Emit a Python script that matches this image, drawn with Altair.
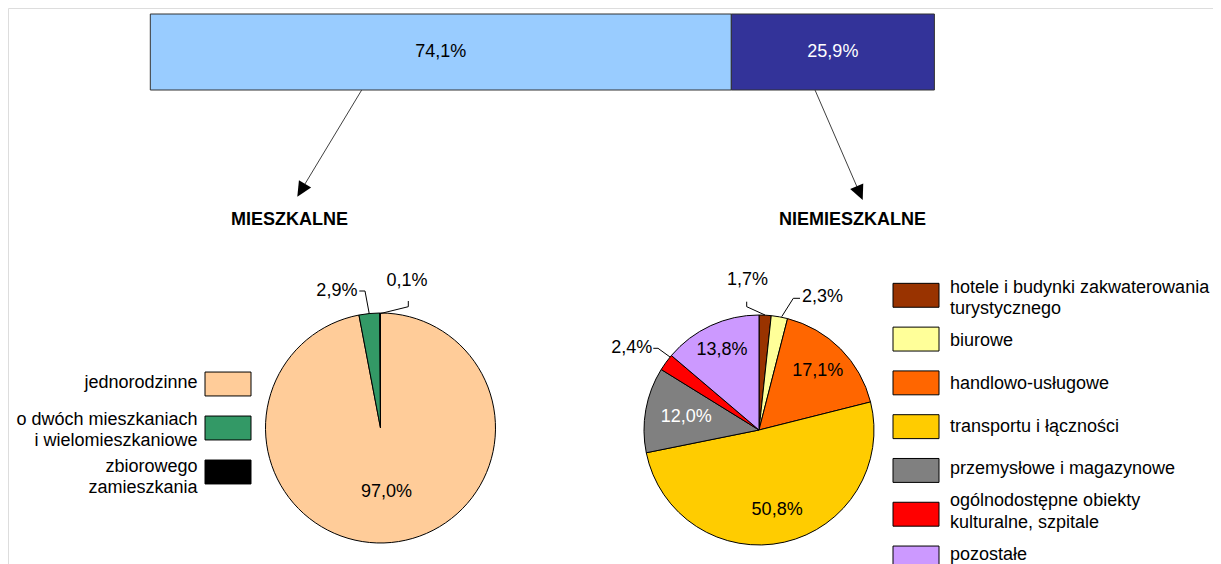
import math
import altair as alt
import pandas as pd

# ---------------- data ----------------
bar_cats = ["mieszkalne", "niemieszkalne"]
bar_values = [74.1, 25.9]
bar_colors = ["#99CCFF", "#333399"]

res_cats = ["jednorodzinne", "o dwóch mieszkaniach i wielomieszkaniowe", "zbiorowego zamieszkania"]
res_values = [97.0, 2.9, 0.1]
res_legend = ["jednorodzinne", "o dwóch mieszkaniach\ni wielomieszkaniowe", "zbiorowego\nzamieszkania"]
res_colors = ["#FFCC99", "#339966", "#000000"]

nonres_cats = [
    "hotele i budynki zakwaterowania turystycznego",
    "biurowe",
    "handlowo-usługowe",
    "transportu i łączności",
    "przemysłowe i magazynowe",
    "ogólnodostępne obiekty kulturalne, szpitale",
    "pozostałe",
]
nonres_values = [1.7, 2.3, 17.1, 50.8, 12.0, 2.4, 13.8]
nonres_legend = [
    "hotele i budynki zakwaterowania\nturystycznego",
    "biurowe",
    "handlowo-usługowe",
    "transportu i łączności",
    "przemysłowe i magazynowe",
    "ogólnodostępne obiekty\nkulturalne, szpitale",
    "pozostałe",
]
nonres_colors = ["#993300", "#FFFF99", "#FF6600", "#FFCC00", "#808080", "#FF0000", "#CC99FF"]

titles = ["MIESZKALNE", "NIEMIESZKALNE"]

# ---------------- layout / style ----------------
FONT = "Liberation Sans"
FS = 18
LH = 21.5
M = 8  # page margin: page coords -> chart coords


def P(v):
    return v - M


W, H = 1205, 556
BAR_X = [P(150.3), P(934.4)]
BAR_Y = (P(14), P(90))
PIE1 = (P(380.5), P(428))
PIE2 = (P(759), P(430))
R = 115
R_OUT = 140


def pct(v):
    return f"{v:.1f}".replace(".", ",") + "%"


def frame(cats, values, legend=None):
    return pd.DataFrame({
        "cat": cats,
        "value": values,
        "label": [pct(v) for v in values],
        "idx": list(range(len(cats))),
        "legend": legend if legend is not None else cats,
    })


COLOR = alt.Scale(domain=bar_cats + res_cats + nonres_cats,
                  range=bar_colors + res_colors + nonres_colors)
THETA = alt.Scale(domain=[0, 1], range=[0, 2 * math.pi])


def stacked(df):
    return (
        alt.Chart(df)
        .transform_joinaggregate(total="sum(value)")
        .transform_window(cum="sum(value)", sort=[alt.SortField("idx")])
        .transform_calculate(
            start="(datum.cum - datum.value) / datum.total",
            end="datum.cum / datum.total",
            mid="(datum.cum - datum.value / 2) / datum.total",
        )
    )


layers = []

# ---------------- top stacked bar ----------------
bar_df = frame(bar_cats, bar_values)
bx = alt.Scale(domain=[0, 1], range=BAR_X)
bar_base = stacked(bar_df)
layers.append(
    bar_base.mark_rect(stroke="#333333", strokeWidth=1).encode(
        x=alt.X("start:Q", scale=bx, axis=None),
        x2="end:Q",
        y=alt.value(BAR_Y[0]),
        y2=alt.value(BAR_Y[1]),
        color=alt.Color("cat:N", scale=COLOR, legend=None),
    )
)
layers.append(
    bar_base.mark_text(font=FONT, fontSize=FS, baseline="middle", align="center").encode(
        x=alt.X("mid:Q", scale=bx, axis=None),
        y=alt.value((BAR_Y[0] + BAR_Y[1]) / 2),
        text="label:N",
        color=alt.condition(alt.datum.cat == bar_cats[1], alt.value("white"), alt.value("black")),
    )
)


# ---------------- pies ----------------
def pie(df, center, labels, white_cats=()):
    """labels: (category, radius, dx, dy) for each slice label."""
    cx, cy = center
    base = stacked(df)
    out = [
        base.mark_arc(radius=R, stroke="black", strokeWidth=1).encode(
            theta=alt.Theta("start:Q", scale=THETA),
            theta2="end:Q",
            color=alt.Color("cat:N", scale=COLOR, legend=None),
            x=alt.value(cx),
            y=alt.value(cy),
        )
    ]
    for cat, rad, dx, dy in labels:
        out.append(
            base.transform_filter(alt.datum.cat == cat)
            .mark_text(radius=rad, dx=dx, dy=dy, font=FONT, fontSize=FS,
                       align="center", baseline="middle",
                       color="white" if cat in white_cats else "black")
            .encode(
                theta=alt.Theta("mid:Q", scale=THETA),
                text="label:N",
                x=alt.value(cx),
                y=alt.value(cy),
            )
        )
    return out


res_df = frame(res_cats, res_values, res_legend)
nonres_df = frame(nonres_cats, nonres_values, nonres_legend)

layers += pie(res_df, PIE1, [
    (res_cats[0], 64, 0, 0),
    (res_cats[1], R_OUT, -30, 2),
    (res_cats[2], R_OUT, 27, -7.5),
])
layers += pie(nonres_df, PIE2, [
    (nonres_cats[0], R_OUT, -19, -10),
    (nonres_cats[1], R_OUT, 38.5, 5),
    (nonres_cats[2], 83, 0, 0),
    (nonres_cats[3], 82, 0, 0),
    (nonres_cats[4], 74, 0, 0),
    (nonres_cats[5], R_OUT, -14, 0.5),
    (nonres_cats[6], 88, 0, 0),
], white_cats=[nonres_cats[4]])

# ---------------- legends ----------------
BOX = "M-1,-0.52H1V0.52H-1Z"
TWO_LINES = "indexof(datum.legend, '\\n') >= 0"


def legend(df, box_x, text_x, box_range, text_range, align):
    cats = list(df["cat"])
    ys = alt.Scale(type="point", domain=cats, range=box_range, padding=0)
    yt = alt.Scale(type="point", domain=cats, range=text_range, padding=0)
    out = [
        alt.Chart(df).mark_point(shape=BOX, size=2116, filled=True, opacity=1,
                                 stroke="black", strokeWidth=1).encode(
            x=alt.value(box_x),
            y=alt.Y("cat:N", scale=ys, axis=None),
            color=alt.Color("cat:N", scale=COLOR, legend=None),
        )
    ]
    for pred, dy in [("!(" + TWO_LINES + ")", 0), (TWO_LINES, -LH / 2)]:
        out.append(
            alt.Chart(df).transform_filter(pred)
            .mark_text(font=FONT, fontSize=FS, align=align, baseline="middle", dy=dy,
                       lineBreak="\n", lineHeight=LH, color="black")
            .encode(
                x=alt.value(text_x),
                y=alt.Y("cat:N", scale=yt, axis=None),
                text="legend:N",
            )
        )
    return out


layers += legend(res_df, P(228), P(197.5), [P(384), P(472)], [P(383), P(477.5)], "right")
layers += legend(nonres_df, P(916), P(950), [P(295.3), P(558)], [P(298.3), P(555)], "left")

# ---------------- annotations: titles, arrows, leader lines ----------------
one = alt.Data(values=[{"a": 1}])
for t, (tx, ty) in zip(titles, [(289.5, 220.3), (852.5, 220.3)]):
    layers.append(
        alt.Chart(one).mark_text(text=t, font=FONT, fontSize=FS, fontWeight="bold",
                                 align="center", baseline="middle", color="black")
        .encode(x=alt.value(P(tx)), y=alt.value(P(ty)))
    )

arrows = [((361.7, 90), (297.3, 196.7)), ((815, 90), (862.7, 200))]
HEAD = 15
for (sx, sy), (tx, ty) in arrows:
    dx, dy = tx - sx, ty - sy
    L = math.hypot(dx, dy)
    ux, uy = dx / L, dy / L
    layers.append(
        alt.Chart(one).mark_rule(stroke="#404040", strokeWidth=1).encode(
            x=alt.value(P(sx)), y=alt.value(P(sy)),
            x2=alt.value(P(tx - ux * HEAD * 0.6)), y2=alt.value(P(ty - uy * HEAD * 0.6)),
        )
    )
    ang = math.degrees(math.atan2(ux, -uy)) % 360
    layers.append(
        alt.Chart(one).mark_point(shape="M0,-1L0.95,1L-0.95,1Z", size=HEAD * HEAD, filled=True,
                                  opacity=1, color="black", angle=ang).encode(
            x=alt.value(P(tx - ux * HEAD / 2)), y=alt.value(P(ty - uy * HEAD / 2)),
        )
    )

leaders = [
    [(359.3, 291), (365, 291), (369.3, 314)],
    [(408.3, 301), (408.3, 306.7), (380.7, 313.5)],
    [(746.7, 301.7), (746.7, 306.7), (765, 315)],
    [(800, 298.3), (793.3, 298.3), (781.7, 316.7)],
    [(653.3, 348.3), (658, 348.3), (670, 357)],
]
for pts in leaders:
    for (x1, y1), (x2, y2) in zip(pts[:-1], pts[1:]):
        layers.append(
            alt.Chart(one).mark_rule(stroke="black", strokeWidth=1).encode(
                x=alt.value(P(x1)), y=alt.value(P(y1)),
                x2=alt.value(P(x2)), y2=alt.value(P(y2)),
            )
        )

chart = (
    alt.layer(*layers)
    .resolve_scale(x="independent", y="independent")
    .properties(width=W, height=H, autosize=alt.AutoSizeParams(type="none"),
                padding={"left": 0, "right": 0, "top": 0, "bottom": 0})
    .configure_view(strokeWidth=0, strokeOpacity=0)
    .configure(font=FONT, background="transparent")
)

chart.save("out.html", embed_options={"renderer": "svg", "actions": False})
